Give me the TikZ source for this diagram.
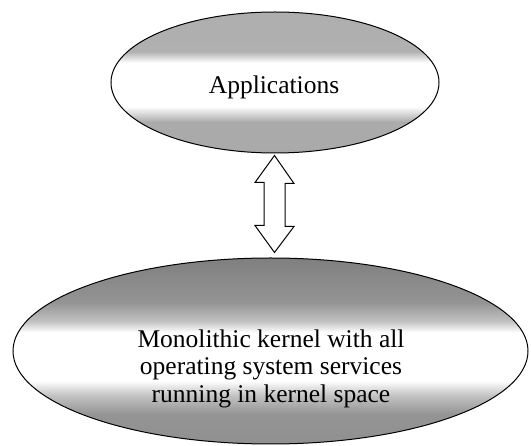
\documentclass[tikz,border=0pt]{standalone}
\usepackage{fontspec}
\setmainfont{Liberation Serif}
\usetikzlibrary{shapes.geometric,calc}
\pgfdeclareverticalshading{appshade}{100bp}{color(0bp)=(black!35); color(36bp)=(black!33); color(41.5bp)=(white); color(57bp)=(white); color(61bp)=(black!31); color(100bp)=(black!33)}
\pgfdeclareverticalshading{kernshade}{100bp}{color(0bp)=(black!48); color(33bp)=(black!42); color(38bp)=(black!24); color(42bp)=(white); color(55bp)=(white); color(58bp)=(black!24); color(63bp)=(black!42); color(75bp)=(black!50); color(100bp)=(black!50)}
\begin{document}
\begin{tikzpicture}[x=1pt,y=-1pt,
  ellipsebox/.style={ellipse, draw=black, line width=1pt, inner sep=0pt},
  textlbl/.style={font=\fontsize{25.5}{27.5}\selectfont, inner sep=0pt, text=black},
  blockarrow/.style={draw=black, fill=white, line width=1pt, line join=miter}]
\useasboundingbox (0,0) rectangle (531,446);
\fill[white] (0,0) rectangle (531,446);
\node[ellipsebox, shading=appshade, minimum width=328pt, minimum height=141pt] (app) at (275,82.5) {};
\node[textlbl, anchor=base] (apptxt) at (274,94) {Applications};
\node[ellipsebox, shading=kernshade, minimum width=515pt, minimum height=186pt] (kern) at (270.5,351) {};
\node[textlbl, align=center] (kerntxt) at (271,368.5) {Monolithic kernel with all\\operating system services\\running in kernel space};
\coordinate (t1) at ($(app.south)+(-0.5,2)$);
\coordinate (t2) at ($(kern.north)+(4,-5)$);
\draw[blockarrow] (t1) -- ++(19.5,28) -- ++(-9,0) -- ++(0,43) -- ++(9,0) -- (t2)
  -- ++(-19.5,-27) -- ++(9,0) -- ++(0,-43) -- ++(-9,0) -- cycle;
\end{tikzpicture}
\end{document}
